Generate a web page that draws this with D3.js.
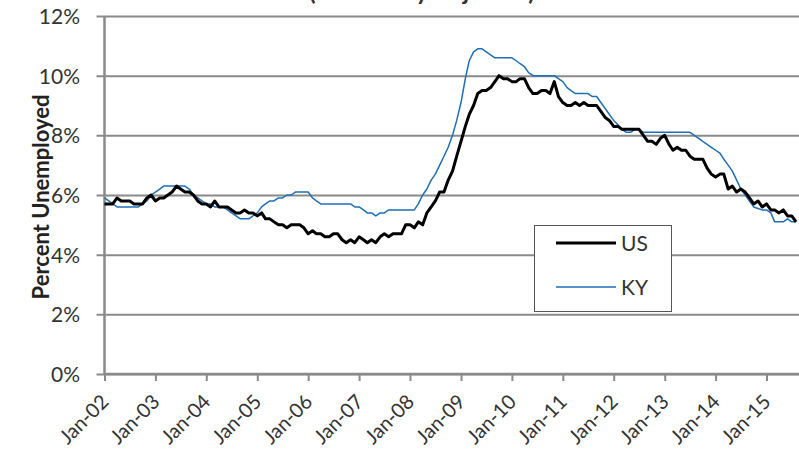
<!DOCTYPE html>
<html>
<head>
<meta charset="utf-8">
<script src="https://cdn.jsdelivr.net/npm/d3@7"></script>
<style>
  body { margin: 0; background: #fff; }
  svg { display: block; }
  text { font-family: Lato, "Noto Sans", sans-serif; }
</style>
</head>
<body>
<svg id="chart" width="799" height="457"></svg>
<script>
// ---- Data (monthly, Jan-2002 .. Aug-2015) ----
const startMonth = "2002-01";
const usRate = [
  5.7,5.7,5.7,5.9,5.8,5.8,5.8,5.7,5.7,5.7,5.9,6.0,   // 2002
  5.8,5.9,5.9,6.0,6.1,6.3,6.2,6.1,6.1,6.0,5.8,5.7,   // 2003
  5.7,5.6,5.8,5.6,5.6,5.6,5.5,5.4,5.4,5.5,5.4,5.4,   // 2004
  5.3,5.4,5.2,5.2,5.1,5.0,5.0,4.9,5.0,5.0,5.0,4.9,   // 2005
  4.7,4.8,4.7,4.7,4.6,4.6,4.7,4.7,4.5,4.4,4.5,4.4,   // 2006
  4.6,4.5,4.4,4.5,4.4,4.6,4.7,4.6,4.7,4.7,4.7,5.0,   // 2007
  5.0,4.9,5.1,5.0,5.4,5.6,5.8,6.1,6.1,6.5,6.8,7.3,   // 2008
  7.8,8.3,8.7,9.0,9.4,9.5,9.5,9.6,9.8,10.0,9.9,9.9,  // 2009
  9.8,9.8,9.9,9.9,9.6,9.4,9.4,9.5,9.5,9.4,9.8,9.3,   // 2010
  9.1,9.0,9.0,9.1,9.0,9.1,9.0,9.0,9.0,8.8,8.6,8.5,   // 2011
  8.3,8.3,8.2,8.2,8.2,8.2,8.2,8.0,7.8,7.8,7.7,7.9,   // 2012
  8.0,7.7,7.5,7.6,7.5,7.5,7.3,7.2,7.2,7.2,6.9,6.7,   // 2013
  6.6,6.7,6.7,6.2,6.3,6.1,6.2,6.1,5.9,5.7,5.8,5.6,   // 2014
  5.7,5.5,5.5,5.4,5.5,5.3,5.3,5.1                    // 2015
];
const kyRate = [
  5.9,5.8,5.7,5.6,5.6,5.6,5.6,5.6,5.6,5.7,5.8,6.0,   // 2002
  6.1,6.2,6.3,6.3,6.3,6.3,6.3,6.3,6.2,6.0,5.9,5.8,   // 2003
  5.7,5.7,5.6,5.6,5.6,5.5,5.4,5.3,5.2,5.2,5.2,5.3,   // 2004
  5.4,5.6,5.7,5.8,5.8,5.9,5.9,6.0,6.0,6.1,6.1,6.1,   // 2005
  6.1,5.9,5.8,5.7,5.7,5.7,5.7,5.7,5.7,5.7,5.7,5.6,   // 2006
  5.6,5.5,5.4,5.4,5.3,5.4,5.4,5.5,5.5,5.5,5.5,5.5,   // 2007
  5.5,5.5,5.7,6.0,6.2,6.5,6.7,7.0,7.3,7.6,8.0,8.5,   // 2008
  9.1,9.9,10.5,10.8,10.9,10.9,10.8,10.7,10.6,10.6,10.6,10.6, // 2009
  10.6,10.5,10.4,10.3,10.1,10.0,10.0,10.0,10.0,10.0,10.0,9.9, // 2010
  9.8,9.6,9.5,9.4,9.4,9.4,9.4,9.3,9.3,9.1,8.9,8.7,   // 2011
  8.5,8.35,8.2,8.1,8.1,8.2,8.2,8.1,8.1,8.1,8.1,8.1,  // 2012
  8.1,8.1,8.1,8.1,8.1,8.1,8.1,8.0,7.9,7.8,7.7,7.6,   // 2013
  7.5,7.4,7.2,7.0,6.8,6.5,6.2,6.0,5.8,5.6,5.55,5.5,  // 2014
  5.5,5.4,5.1,5.1,5.1,5.2,5.1,5.1                    // 2015
];
const yTicks = [0, 2, 4, 6, 8, 10, 12];
const xTickYears = [2002,2003,2004,2005,2006,2007,2008,2009,2010,2011,2012,2013,2014,2015];
const seriesNames = ["US", "KY"];
const titleLine2 = "(Seasonally Adjusted)";
const yAxisTitle = "Percent Unemployed";

// ---- Layout ----
const svg = d3.select("#chart");
const pLeft = 104.5, pRight = 799, pTop = 16, pBottom = 374;
const gridColor = "#8a8a8a";
const textColor = "#333";
const kyColor = "#1f6fb7";

const parseMonth = d3.timeParse("%Y-%m");
const t0 = parseMonth(startMonth);
const dates = usRate.map((_, i) => d3.timeMonth.offset(t0, i));

const x = d3.scaleTime()
  .domain([new Date(2002, 0, 1), new Date(2015, 0, 1)])
  .range([104.5, 766.5]);
const y = d3.scaleLinear().domain([0, 12]).range([pBottom, pTop]);

// gridlines + y labels
const yAxis = d3.axisLeft(y)
  .tickValues(yTicks)
  .tickSize(-(pRight - pLeft))
  .tickPadding(16)
  .tickFormat(d => d + "%");
const gy = svg.append("g").attr("transform", `translate(${pLeft},0)`).call(yAxis);
gy.select(".domain").remove();
gy.selectAll(".tick line").attr("stroke", gridColor).attr("stroke-width", 2)
  .attr("x1", -8);
gy.selectAll(".tick text").attr("fill", textColor).style("font-size", "21px")
  .attr("x", -24.5).attr("dy", "0.36em");

// x axis
const xAxis = d3.axisBottom(x)
  .tickValues(xTickYears.map(yr => new Date(yr, 0, 1)))
  .tickSize(7)
  .tickFormat(d3.timeFormat("%b-%y"));
const gx = svg.append("g").attr("transform", `translate(0,${pBottom})`).call(xAxis);
gx.select(".domain").attr("d", `M${pLeft},0H${pRight}`).attr("stroke", gridColor).attr("stroke-width", 2.5);
gx.selectAll(".tick line").attr("stroke", gridColor).attr("stroke-width", 2);
gx.selectAll(".tick text")
  .attr("fill", textColor)
  .style("font-size", "20px")
  .attr("text-anchor", "end")
  .attr("dy", null)
  .attr("y", 0)
  .attr("transform", "translate(5,29) rotate(-45)");

// y axis line
svg.append("line")
  .attr("x1", pLeft).attr("x2", pLeft)
  .attr("y1", pTop).attr("y2", pBottom)
  .attr("stroke", gridColor).attr("stroke-width", 2.5);

// lines
const line = d3.line().x((d, i) => x(dates[i])).y(d => y(d));
svg.append("path").datum(kyRate)
  .attr("d", line).attr("fill", "none")
  .attr("stroke", kyColor).attr("stroke-width", 1.5).attr("stroke-linejoin", "round");
svg.append("path").datum(usRate)
  .attr("d", line).attr("fill", "none")
  .attr("stroke", "#000").attr("stroke-width", 3).attr("stroke-linejoin", "round");

// title (cut off at top in the reference)
svg.append("text")
  .attr("x", 422).attr("y", 0)
  .attr("text-anchor", "middle")
  .attr("fill", textColor)
  .style("font-size", "24px").style("font-weight", "bold")
  .text(titleLine2);

// y axis title
svg.append("text")
  .attr("transform", "translate(49,197) rotate(-90)")
  .attr("text-anchor", "middle")
  .attr("fill", "#222")
  .style("font-size", "22px").style("font-weight", "bold")
  .text(yAxisTitle);

// legend
const lg = svg.append("g");
lg.append("rect")
  .attr("x", 534.5).attr("y", 225.5).attr("width", 137).attr("height", 86)
  .attr("fill", "#fff").attr("stroke", "#555").attr("stroke-width", 1);
const legendColors = ["#000", kyColor];
const legendWidths = [3, 1.5];
seriesNames.forEach((name, i) => {
  const ly = 243 + i * 44;
  lg.append("line").attr("x1", 556).attr("x2", 616).attr("y1", ly).attr("y2", ly)
    .attr("stroke", legendColors[i]).attr("stroke-width", legendWidths[i]);
  lg.append("text").attr("x", 621).attr("y", ly + 7.5)
    .attr("fill", textColor).style("font-size", "21px").text(name);
});
</script>
</body>
</html>
